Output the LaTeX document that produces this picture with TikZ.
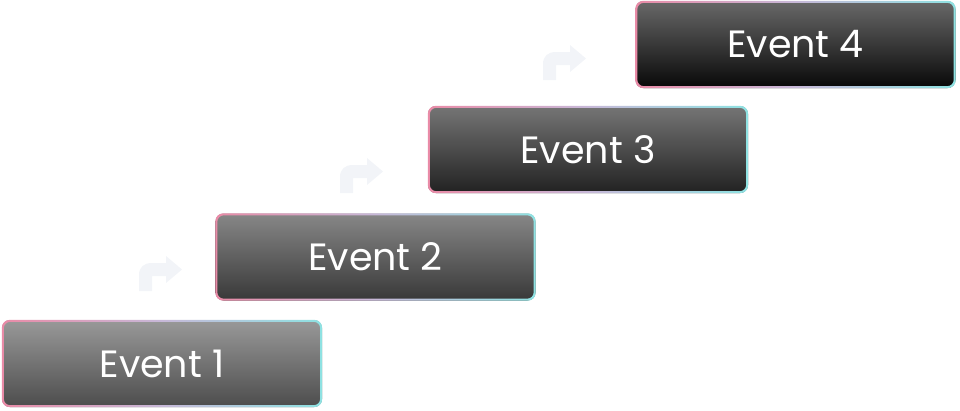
\documentclass[tikz,border=0pt]{standalone}
\usepackage{fontspec}
\setmainfont{Poppins}
\definecolor{bpink}{HTML}{E98BA7}
\definecolor{bmid}{HTML}{C7B8D8}
\definecolor{bcyan}{HTML}{8EE2E2}
\definecolor{arrowc}{HTML}{F2F4F8}
\tikzset{
  evbox/.style={rectangle, rounded corners=8pt, minimum width=320pt, minimum height=87pt,
    inner sep=0pt, text=white, font=\fontsize{38}{40}\selectfont},
  evborder/.style={left color=bpink, right color=bcyan, middle color=bmid, even odd rule},
  turnarrow/.style={fill=arrowc, draw=none}
}
\newcommand{\ringof}[1]{%
  \shade[evborder] [rounded corners=8pt] (#1.north west) rectangle (#1.south east)
    [rounded corners=6.5pt] ([shift={(2pt,-2pt)}]#1.north west) rectangle ([shift={(-2pt,2pt)}]#1.south east);}
\newcommand{\turnarrowat}[2]{%
  \fill[turnarrow, shift={(#1,#2)}] (0,0) -- (0,-16) .. controls (0,-24) and (5,-28) .. (13,-28)
    -- (27,-28) -- (27,-35) -- (43,-21.5) -- (27,-8) -- (27,-15) -- (13,-15) -- (13,0) -- cycle;}
\begin{document}
\begin{tikzpicture}[x=1pt,y=-1pt]
\useasboundingbox (0,0) rectangle (960,410);
\turnarrowat{139}{291}
\turnarrowat{340}{193}
\turnarrowat{543}{80}
\node[evbox, top color=black!40!white, bottom color=black!70] (e1) at (162,363.5) {Event 1};
\node[evbox, top color=black!47, bottom color=black!78] (e2) at (375.5,257) {Event 2};
\node[evbox, top color=black!54, bottom color=black!87] (e3) at (588,149.5) {Event 3};
\node[evbox, top color=black!59, bottom color=black!97] (e4) at (795.5,44.5) {Event 4};
\ringof{e1}
\ringof{e2}
\ringof{e3}
\ringof{e4}
\end{tikzpicture}
\end{document}
